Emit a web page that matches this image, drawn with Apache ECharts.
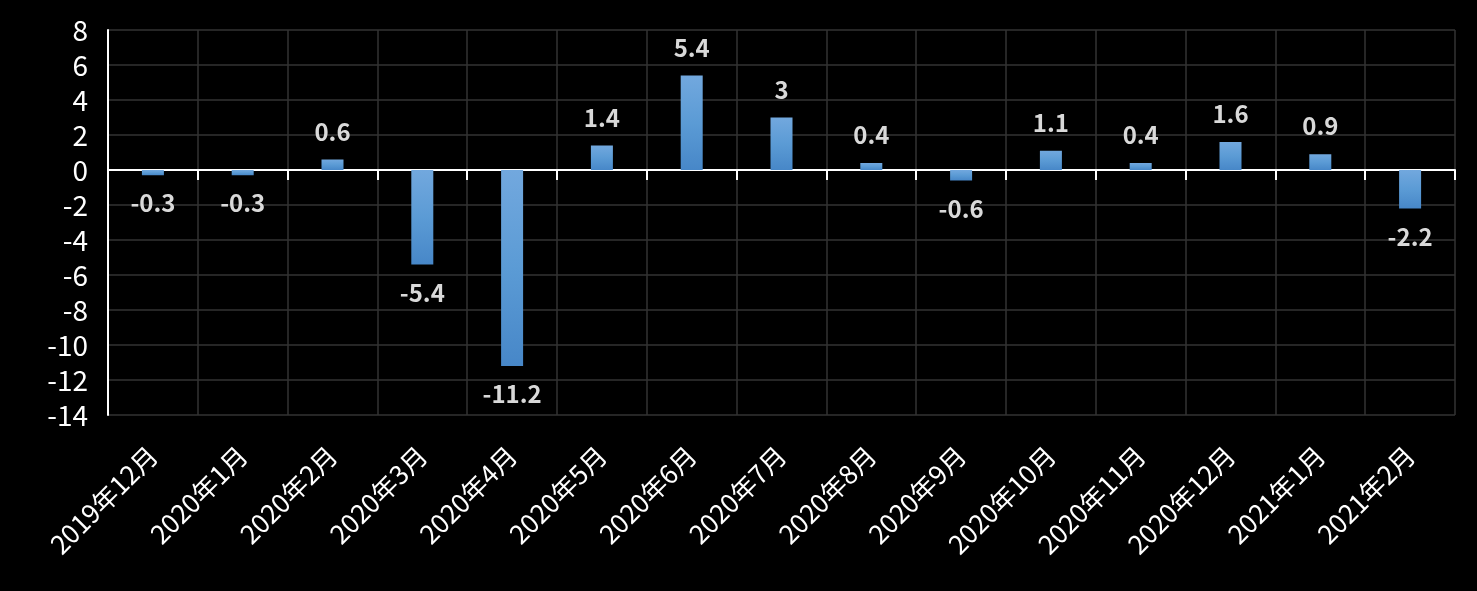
<!DOCTYPE html>
<html>
<head>
<meta charset="utf-8">
<script src="https://cdn.jsdelivr.net/npm/echarts@6/dist/echarts.min.js"></script>
<style>
html,body{margin:0;padding:0;background:#000;}
#chart{width:1477px;height:591px;}
</style>
</head>
<body>
<div id="chart"></div>
<script>
const categories = ['2019年12月','2020年1月','2020年2月','2020年3月','2020年4月','2020年5月','2020年6月','2020年7月','2020年8月','2020年9月','2020年10月','2020年11月','2020年12月','2021年1月','2021年2月'];
const values = [-0.3, -0.3, 0.6, -5.4, -11.2, 1.4, 5.4, 3, 0.4, -0.6, 1.1, 0.4, 1.6, 0.9, -2.2];
const yTicks = {min: -14, max: 8, interval: 2};

const chart = echarts.init(document.getElementById('chart'), null, {renderer: 'canvas'});
const font = '"Noto Sans CJK SC", "Open Sans", sans-serif';
chart.setOption({
  backgroundColor: '#000000',
  animation: false,
  grid: {left: 108, right: 22, top: 30, bottom: 176, containLabel: false},
  xAxis: [
    {
      type: 'category',
      data: categories,
      boundaryGap: true,
      axisLine: {show: true, onZero: true, lineStyle: {color: '#ffffff', width: 2}},
      axisTick: {show: true, length: 10, lineStyle: {color: '#ffffff', width: 2}},
      axisLabel: {show: false},
      splitLine: {show: true, lineStyle: {color: '#333333', width: 1.5}}
    },
    {
      type: 'category',
      data: categories,
      position: 'bottom',
      boundaryGap: true,
      axisLine: {show: false, onZero: false},
      axisTick: {show: false},
      splitLine: {show: false},
      axisLabel: {
        show: true, interval: 0, rotate: 45, margin: 36,
        color: '#ffffff', fontSize: 26, fontFamily: font
      }
    }
  ],
  yAxis: {
    type: 'value',
    min: yTicks.min, max: yTicks.max, interval: yTicks.interval,
    axisLine: {show: true, lineStyle: {color: '#ffffff', width: 2}},
    axisTick: {show: false},
    axisLabel: {color: '#ffffff', fontSize: 28, fontFamily: font, margin: 20},
    splitLine: {show: true, lineStyle: {color: '#333333', width: 1.5}}
  },
  series: [{
    type: 'bar',
    xAxisIndex: 0,
    data: values.map(v => ({
      value: v,
      label: {position: v >= 0 ? 'top' : 'bottom'}
    })),
    barWidth: 22,
    itemStyle: {
      color: new echarts.graphic.LinearGradient(0, 0, 0, 1, [
        {offset: 0, color: '#72a8de'},
        {offset: 0.5, color: '#5b9bd5'},
        {offset: 1, color: '#4787c8'}
      ])
    },
    label: {
      show: true,
      distance: 16,
      color: '#d9d9d9',
      fontSize: 24,
      fontWeight: 'bold',
      fontFamily: font
    }
  }]
});
</script>
</body>
</html>
